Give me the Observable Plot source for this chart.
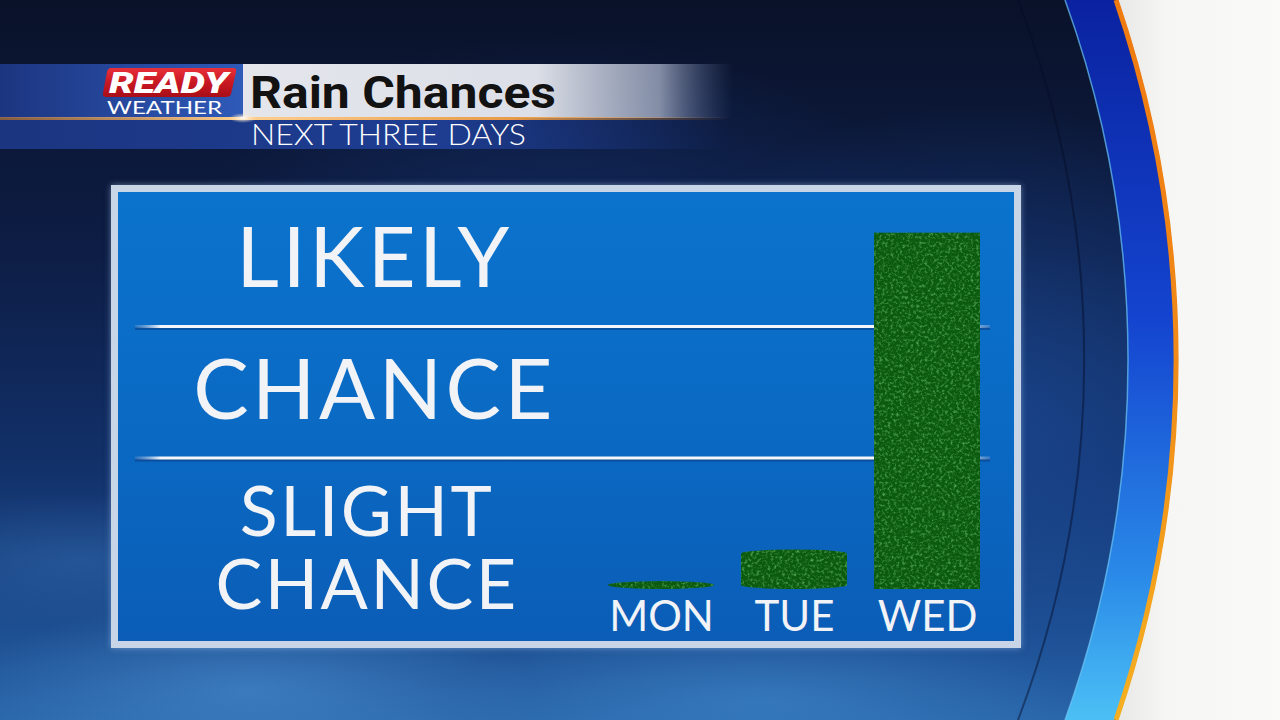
<!DOCTYPE html>
<html><head><meta charset="utf-8">
<script src="https://cdn.jsdelivr.net/npm/d3@7"></script>
<script src="https://cdn.jsdelivr.net/npm/@observablehq/plot@0.6"></script>
<style>
html,body{margin:0;padding:0;width:1280px;height:720px;overflow:hidden;background:#0b1632;}
#stage{position:relative;width:1280px;height:720px;overflow:hidden;
  background:
   radial-gradient(ellipse 380px 120px at 250px 690px, rgba(80,150,215,0.5), rgba(80,150,215,0) 75%),
   radial-gradient(ellipse 420px 110px at 760px 700px, rgba(70,145,215,0.45), rgba(70,145,215,0) 75%),
   radial-gradient(ellipse 300px 90px at 80px 560px, rgba(60,120,190,0.35), rgba(60,120,190,0) 75%),
   radial-gradient(ellipse 520px 420px at 980px 420px, rgba(30,80,160,0.65), rgba(30,80,160,0) 75%),
   radial-gradient(ellipse 500px 300px at 560px 260px, rgba(25,60,130,0.45), rgba(25,60,130,0) 75%),
   linear-gradient(180deg, #0a1229 0%, #0d1d45 35%, #12316a 65%, #1d4f92 88%, #2a67aa 100%);}
#deco{position:absolute;left:0;top:0;}
#panel{position:absolute;left:111px;top:185px;width:910px;height:463px;box-sizing:border-box;
  border:7px solid #c8d5e7;
  background:linear-gradient(180deg,#0b73cd 0%,#0a6ac4 50%,#0b5db6 100%);
  box-shadow:0 0 6px rgba(180,210,245,0.5);}
#chart{position:absolute;left:111px;top:185px;}
</style></head>
<body><div id="stage">
<svg id="deco" width="1280" height="720">
  <defs>
    <linearGradient id="band" x1="0" y1="0" x2="0" y2="1">
      <stop offset="0" stop-color="#0a22a0"/>
      <stop offset="0.45" stop-color="#1445d0"/>
      <stop offset="0.8" stop-color="#2a8ae8"/>
      <stop offset="1" stop-color="#4cc0f5"/>
    </linearGradient>
    <linearGradient id="orng" x1="0" y1="0" x2="0" y2="1">
      <stop offset="0" stop-color="#f07a10"/>
      <stop offset="0.5" stop-color="#f08a18"/>
      <stop offset="1" stop-color="#f5b020"/>
    </linearGradient>
    <linearGradient id="white" x1="0" y1="0" x2="1" y2="0">
      <stop offset="0" stop-color="#e8e8e6"/>
      <stop offset="0.3" stop-color="#f6f6f4"/>
      <stop offset="1" stop-color="#fafaf9"/>
    </linearGradient>
    <linearGradient id="red" x1="0" y1="0" x2="0" y2="1">
      <stop offset="0" stop-color="#e8303a"/>
      <stop offset="0.5" stop-color="#c81822"/>
      <stop offset="1" stop-color="#a80e18"/>
    </linearGradient>
    <linearGradient id="greyStrip" x1="0" y1="0" x2="1" y2="0">
      <stop offset="0" stop-color="#e4e6ec"/>
      <stop offset="0.6" stop-color="#dcdfe7"/>
      <stop offset="0.85" stop-color="#aab3c9" stop-opacity="0.75"/>
      <stop offset="1" stop-color="#5a6c9a" stop-opacity="0"/>
    </linearGradient>
    <linearGradient id="blueLeft" x1="0" y1="0" x2="1" y2="0">
      <stop offset="0" stop-color="#1c3580"/>
      <stop offset="1" stop-color="#2f5ab8"/>
    </linearGradient>
    <linearGradient id="lowStrip" x1="0" y1="0" x2="1" y2="0">
      <stop offset="0" stop-color="#1b3580"/>
      <stop offset="0.6" stop-color="#1e3d92"/>
      <stop offset="1" stop-color="#1e3d92" stop-opacity="0"/>
    </linearGradient>
    <linearGradient id="goldLine" x1="0" y1="0" x2="1" y2="0">
      <stop offset="0" stop-color="#d88a40" stop-opacity="0.6"/>
      <stop offset="0.33" stop-color="#ffd090"/>
      <stop offset="0.7" stop-color="#e89a48"/>
      <stop offset="1" stop-color="#e89a48" stop-opacity="0"/>
    </linearGradient>
    <radialGradient id="flare">
      <stop offset="0" stop-color="#ffffff"/>
      <stop offset="1" stop-color="#ffe0b0" stop-opacity="0"/>
    </radialGradient>
  </defs>
  <path d="M1118,0 A1110,1110 0 0 1 1118,720 L1280,720 L1280,0 Z" fill="url(#white)"/>
  <path d="M1114,0 A1106,1106 0 0 1 1114,720 L1065,720 A1060,1060 0 0 0 1065,0 Z" fill="url(#band)"/>
  <path d="M1065,0 A1060,1060 0 0 1 1065,720" fill="none" stroke="#6cc6f5" stroke-opacity="0.7" stroke-width="1.5"/>
  <path d="M1018,0 A1012,1012 0 0 1 1018,720" fill="none" stroke="#050c25" stroke-opacity="0.45" stroke-width="2"/>
  <path d="M1116,0 A1108,1108 0 0 1 1116,720" fill="none" stroke="url(#orng)" stroke-width="5"/>
  <rect x="0" y="64" width="243" height="54" fill="url(#blueLeft)"/>
  <rect x="243" y="64" width="490" height="54" fill="url(#greyStrip)"/>
  <rect x="0" y="120" width="730" height="29" fill="url(#lowStrip)"/>
  <rect x="0" y="117" width="730" height="3" fill="url(#goldLine)"/>
  <ellipse cx="243" cy="118" rx="14" ry="5" fill="url(#flare)"/>
  <path d="M111,68 L233,68 Q237,68 236,72 L231,94 Q230,97 226,97 L106,97 Q102,97 103,93 L107,72 Q108,68 111,68 Z" fill="url(#red)"/>
  <text x="109" y="93" textLength="119" lengthAdjust="spacingAndGlyphs" font-family="Roboto, 'Liberation Sans', sans-serif" font-weight="900" font-style="italic" font-size="30" fill="#ffffff">READY</text>
  <text x="107" y="113.5" textLength="115" lengthAdjust="spacingAndGlyphs" font-family="Lato, 'Open Sans', sans-serif" font-weight="400" font-size="18" fill="#ffffff">WEATHER</text>
  <text x="250" y="108" textLength="306" lengthAdjust="spacingAndGlyphs" font-family="Roboto, 'Liberation Sans', sans-serif" font-weight="700" font-size="44" fill="#121212">Rain Chances</text>
  <text x="251" y="145" textLength="275" lengthAdjust="spacingAndGlyphs" font-family="Lato, 'Open Sans', sans-serif" font-weight="300" font-size="29" fill="#ffffff">NEXT THREE DAYS</text>
</svg>
<div id="panel"></div>
</div>
<script>
// ---- data ----
const days = ["MON", "TUE", "WED"];
const rainLevel = [0.06, 0.30, 2.71];          // on a 0–3 scale: slight chance / chance / likely
const levelLabels = ["SLIGHT\nCHANCE", "CHANCE", "LIKELY"];
const levelIndex = [0, 1, 2];
const separators = [1, 2];

const data = days.map((d, i) => ({day: d, value: rainLevel[i]}));
const levels = levelLabels.map((l, i) => ({label: l, level: levelIndex[i]}));

const chart = Plot.plot({
  width: 910,
  height: 463,
  marginTop: 9.5,
  marginBottom: 59,
  marginLeft: 24,
  marginRight: 31,
  style: {background: "transparent", color: "#f1f3f7", fontFamily: "Lato, 'Open Sans', sans-serif", overflow: "visible"},
  x: {domain: days, range: [483.7, 882.7], paddingInner: 0.2, paddingOuter: 0.1, label: null},
  y: {domain: [0, 3], axis: null},
  marks: [
    Plot.ruleY(separators, {stroke: "#0a2f70", strokeOpacity: 0.45, strokeWidth: 3, dy: 2}),
    Plot.ruleY(separators, {stroke: "url(#ruleGrad)", strokeWidth: 3}),
    Plot.text(levels.filter(d => d.level > 0), {
      y: d => d.level + 0.5, text: "label", frameAnchor: "left", dx: 239,
      textAnchor: "middle", fontSize: 83, fill: "#f1f3f7", fontWeight: 400
    }),
    Plot.text(levels.filter(d => d.level === 0), {
      y: d => d.level + 0.5, text: "label", frameAnchor: "left", dx: 231.5, dy: 25,
      textAnchor: "middle", fontSize: 70, lineHeight: 1.05, fill: "#f1f3f7", fontWeight: 400
    }),
    Plot.barY(data, {filter: d => d.value < 1, x: "day", y: "value", fill: "url(#grass)", rx: 53, ry: 4}),
    Plot.barY(data, {filter: d => d.value >= 1, x: "day", y: "value", fill: "url(#grass)"}),
    Plot.axisX({tickSize: 0, tickPadding: 12, fontSize: 42, fill: "#f1f3f7", label: null})
  ]
});
chart.id = "chart";

// widen the level labels a little (the original uses a wider typeface)
d3.select(chart).selectAll("text").each(function() {
  const t = this.textContent;
  if (t.includes("SLIGHT")) this.setAttribute("letter-spacing", "2.5");
  else if (t === "LIKELY" || t === "CHANCE") this.setAttribute("letter-spacing", "3.5");
});

d3.select(chart).insert("defs", ":first-child").html(`
  <linearGradient id="ruleGrad" gradientUnits="userSpaceOnUse" x1="24" y1="0" x2="879" y2="0">
    <stop offset="0" stop-color="#9fb6d8" stop-opacity="0.2"/>
    <stop offset="0.03" stop-color="#f4f6fa"/>
    <stop offset="0.97" stop-color="#f4f6fa"/>
    <stop offset="1" stop-color="#9fb6d8" stop-opacity="0.3"/>
  </linearGradient>
  <filter id="speck" x="0" y="0" width="100%" height="100%">
    <feTurbulence type="fractalNoise" baseFrequency="0.35" numOctaves="3" seed="7"/>
    <feColorMatrix type="matrix" values="0 0 0 0 0.12  0 0 0 0 0.48  0 0 0 0 0.12  2.0 0 0 0 -0.95"/>
  </filter>
  <pattern id="grass" patternUnits="userSpaceOnUse" x="0" y="0" width="910" height="463">
    <rect width="910" height="463" fill="#0c5a10"/>
    <rect width="910" height="463" fill="#000" filter="url(#speck)"/>
  </pattern>
`);

document.getElementById("stage").appendChild(chart);
</script>
</body></html>
